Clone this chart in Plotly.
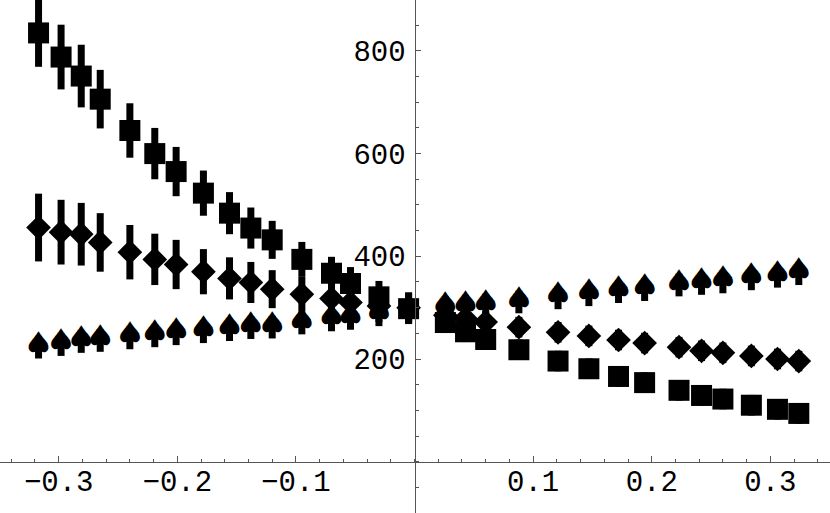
import plotly.graph_objects as go

# ---- data ----
x_vals = [-0.317, -0.298, -0.281, -0.265, -0.240, -0.219, -0.201, -0.178,
          -0.156, -0.138, -0.120, -0.095, -0.070, -0.054, -0.030, -0.005,
          0.026, 0.043, 0.060, 0.088, 0.121, 0.147, 0.172, 0.194,
          0.223, 0.242, 0.260, 0.284, 0.306, 0.324]

square_vals = [835, 788, 751, 706, 645, 600, 565, 523,
               484, 455, 432, 394, 367, 347, 321, 298,
               271, 253, 238, 218, 196, 181, 166, 154,
               139, 129, 122, 110, 102, 94]

diamond_vals = [456, 447, 443, 427, 408, 394, 384, 370,
                357, 349, 336, 326, 318, 310, 303, 300,
                285, 279, 272, 262, 252, 245, 237, 231,
                223, 216, 212, 206, 200, 196]

spade_vals = [223, 228, 234, 236, 241, 245, 249, 253,
              257, 261, 262, 270, 276, 279, 286, 292,
              300, 303, 305, 311, 319, 325, 331, 335,
              344, 347, 350, 356, 361, 366]

err_vals = [66, 63, 61, 57, 53, 50, 48, 44,
            41, 40, 37, 34, 32, 32, 31, 30,
            20, 20, 20, 20, 20, 20, 20, 20,
            20, 20, 20, 20, 20, 20]

spade_err = [22] * 30

x_tickvals = [-0.3, -0.2, -0.1, 0.1, 0.2, 0.3]
x_ticktext = ["\u22120.3", "\u22120.2", "\u22120.1", "0.1", "0.2", "0.3"]
y_tickvals = [200, 400, 600, 800]
y_ticktext = ["200", "400", "600", "800"]

INK = "black"
AXIS = "#555555"
FONT = "Liberation Mono"

fig = go.Figure()

fig.add_trace(go.Scatter(
    x=x_vals, y=spade_vals, mode="text", text=["\u2660"] * len(x_vals),
    textposition="middle center",
    textfont=dict(family="DejaVu Sans", size=34, color=INK),
    error_y=dict(type="data", array=spade_err, visible=True, color=INK,
                 thickness=7, width=0),
    showlegend=False, hoverinfo="skip"))

fig.add_trace(go.Scatter(
    x=x_vals, y=diamond_vals, mode="markers",
    marker=dict(symbol="diamond", size=19, color=INK, line=dict(width=0)),
    error_y=dict(type="data", array=err_vals, visible=True, color=INK,
                 thickness=7, width=0),
    showlegend=False, hoverinfo="skip"))

fig.add_trace(go.Scatter(
    x=x_vals, y=square_vals, mode="markers",
    marker=dict(symbol="square", size=21, color=INK, line=dict(width=0)),
    error_y=dict(type="data", array=err_vals, visible=True, color=INK,
                 thickness=7, width=0),
    showlegend=False, hoverinfo="skip"))

fig.update_layout(
    width=830, height=513,
    margin=dict(l=0, r=0, t=0, b=0, pad=0, autoexpand=False),
    paper_bgcolor="white", plot_bgcolor="white",
    xaxis=dict(range=[-0.3495, 0.3503], anchor="free", position=0.1,
               automargin=False,
               showgrid=False, zeroline=False, showline=True,
               linecolor=AXIS, linewidth=1.5,
               tickmode="array", tickvals=x_tickvals, ticktext=x_ticktext,
               ticks="inside", ticklen=6, tickwidth=1, tickcolor=AXIS,
               minor=dict(tickmode="linear", tick0=0, dtick=0.02,
                          ticks="inside", ticklen=3, tickwidth=1,
                          tickcolor=AXIS),
               tickfont=dict(family=FONT, size=29, color=INK),
               ticklabelstandoff=-7),
    yaxis=dict(range=[-99.9, 899.1], anchor="free", position=0.4994,
               automargin=False,
               showgrid=False, zeroline=False, showline=True,
               linecolor=AXIS, linewidth=1.5,
               tickmode="array", tickvals=y_tickvals, ticktext=y_ticktext,
               ticks="inside", ticklen=5, tickwidth=1, tickcolor=AXIS,
               minor=dict(tickmode="linear", tick0=0, dtick=50,
                          ticks="inside", ticklen=3, tickwidth=1,
                          tickcolor=AXIS),
               tickfont=dict(family=FONT, size=29, color=INK),
               ticklabelstandoff=3),
)

fig.write_html("out.html",
               config={"displayModeBar": False, "staticPlot": True},
               post_script="document.body.style.margin='0';"
                           "document.body.style.padding='0';")
